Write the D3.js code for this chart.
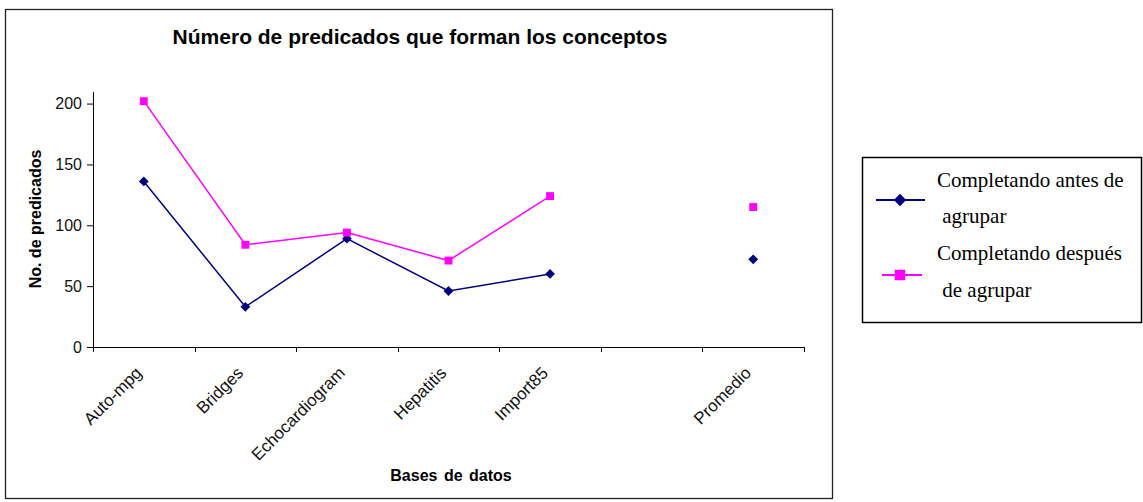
<!DOCTYPE html>
<html>
<head>
<meta charset="utf-8">
<script src="https://cdn.jsdelivr.net/npm/d3@7"></script>
<style>
  html, body { margin: 0; padding: 0; background: #fff; }
  svg { display: block; }
</style>
</head>
<body>
<svg id="chart" width="1143" height="502"></svg>
<script>
// Data
const categories = ["Auto-mpg", "Bridges", "Echocardiogram", "Hepatitis", "Import85", "", "Promedio"];
const antesValues = [136, 33, 89, 46, 60, null, 72];
const despuesValues = [202, 84, 94, 71, 124, null, 115];
const yTicks = [0, 50, 100, 150, 200];
const seriesNames = ["Completando antes de agrupar", "Completando después de agrupar"];

// The average point stands on its own, so the lines stop at Import85
const lineBreakAt = 5;

const svg = d3.select("#chart");
const sans = "Liberation Sans, Arial, sans-serif";
const serif = "Liberation Serif, Times New Roman, serif";

// outer chart frame
svg.append("rect")
  .attr("x", 5.5).attr("y", 9.5)
  .attr("width", 827).attr("height", 489)
  .attr("fill", "#fff").attr("stroke", "#222").attr("stroke-width", 1.3);

const x = d3.scaleBand().domain(categories).range([93, 804]).padding(0);
const y = d3.scaleLinear().domain([0, 210]).range([347, 91.4]);

const axisColor = "#000";

// Y axis
const yAxis = svg.append("g")
  .attr("transform", "translate(93,0)")
  .call(d3.axisLeft(y).tickValues(yTicks).tickSize(6).tickPadding(5).tickSizeOuter(0));
yAxis.select(".domain").attr("stroke", axisColor);
yAxis.selectAll(".tick line").attr("stroke", axisColor);
yAxis.selectAll("text")
  .attr("font-family", sans)
  .attr("font-size", 16).attr("fill", "#111");

// X axis line with ticks between categories
const xAxis = svg.append("g").attr("transform", "translate(0,347)");
xAxis.append("line")
  .attr("x1", 93).attr("x2", 804.5).attr("y1", 0.5).attr("y2", 0.5)
  .attr("stroke", axisColor);
const bounds = categories.map(c => x(c)).concat([x(categories[categories.length - 1]) + x.bandwidth()]);
xAxis.selectAll("line.tk").data(bounds).join("line")
  .attr("class", "tk")
  .attr("x1", d => Math.round(d) + 0.5).attr("x2", d => Math.round(d) + 0.5)
  .attr("y1", 0).attr("y2", 5)
  .attr("stroke", axisColor);

// rotated category labels
xAxis.selectAll("text.cat").data(categories.filter(c => c !== "")).join("text")
  .attr("class", "cat")
  .attr("transform", d => `translate(${x(d) + x.bandwidth() / 2 - 1},${27}) rotate(-45)`)
  .attr("text-anchor", "end")
  .attr("font-family", sans)
  .attr("font-size", 17).attr("fill", "#111")
  .text(d => d);

// Titles
svg.append("text")
  .attr("x", 420).attr("y", 44)
  .attr("text-anchor", "middle")
  .attr("font-family", sans)
  .attr("font-size", 21).attr("font-weight", "bold")
  .text("Número de predicados que forman los conceptos");

svg.append("text")
  .attr("transform", "translate(41,219) rotate(-90)")
  .attr("text-anchor", "middle")
  .attr("font-family", sans)
  .attr("font-size", 16).attr("font-weight", "bold")
  .text("No. de predicados");

svg.append("text")
  .attr("x", 451).attr("y", 481)
  .attr("text-anchor", "middle")
  .attr("font-family", sans)
  .attr("font-size", 16).attr("font-weight", "bold")
  .attr("word-spacing", 2)
  .text("Bases de datos");

// square-rotated diamond marker
const diamond = {
  draw(ctx, size) {
    const r = Math.sqrt(size / 2);
    ctx.moveTo(0, -r); ctx.lineTo(r, 0); ctx.lineTo(0, r); ctx.lineTo(-r, 0); ctx.closePath();
  }
};

// Series
const cx = c => x(c) + x.bandwidth() / 2;
const series = [
  { name: seriesNames[0], values: antesValues, color: "#000080", shape: diamond, size: 48 },
  { name: seriesNames[1], values: despuesValues, color: "#FF00FF", shape: d3.symbolSquare, size: 62 }
];

const line = d3.line()
  .defined(d => d.v != null)
  .x(d => cx(d.c))
  .y(d => y(d.v));

series.forEach(s => {
  const pts = categories.map((c, i) => ({ c, v: s.values[i], i }));
  svg.append("path")
    .datum(pts.filter(p => p.i < lineBreakAt))
    .attr("fill", "none")
    .attr("stroke", s.color)
    .attr("stroke-width", 1.5)
    .attr("d", line);
  svg.append("g").selectAll("path").data(pts.filter(p => p.v != null)).join("path")
    .attr("transform", d => `translate(${cx(d.c)},${y(d.v)})`)
    .attr("d", d3.symbol().type(s.shape).size(s.size)())
    .attr("fill", s.color);
});

// Legend
const lg = svg.append("g");
lg.append("rect")
  .attr("x", 862.5).attr("y", 157.5)
  .attr("width", 279).attr("height", 165)
  .attr("fill", "#fff").attr("stroke", "#000").attr("stroke-width", 1.5);

const legendRows = [
  { s: series[0], y: 200, x1: 876, x2: 925, msize: 76, lines: ["Completando antes de", " agrupar"], ty: [187, 223] },
  { s: series[1], y: 275, x1: 882, x2: 922, msize: 110, lines: ["Completando después", " de agrupar"], ty: [260, 297] }
];
legendRows.forEach(r => {
  lg.append("line")
    .attr("x1", r.x1).attr("x2", r.x2).attr("y1", r.y).attr("y2", r.y)
    .attr("stroke", r.s.color).attr("stroke-width", 2);
  lg.append("path")
    .attr("transform", `translate(900,${r.y})`)
    .attr("d", d3.symbol().type(r.s.shape).size(r.msize)())
    .attr("fill", r.s.color);
  r.lines.forEach((t, k) => {
    lg.append("text")
      .attr("x", 937).attr("y", r.ty[k])
      .style("white-space", "pre")
      .attr("font-family", serif)
      .attr("font-size", 21).attr("fill", "#000")
      .text(t);
  });
});
</script>
</body>
</html>
